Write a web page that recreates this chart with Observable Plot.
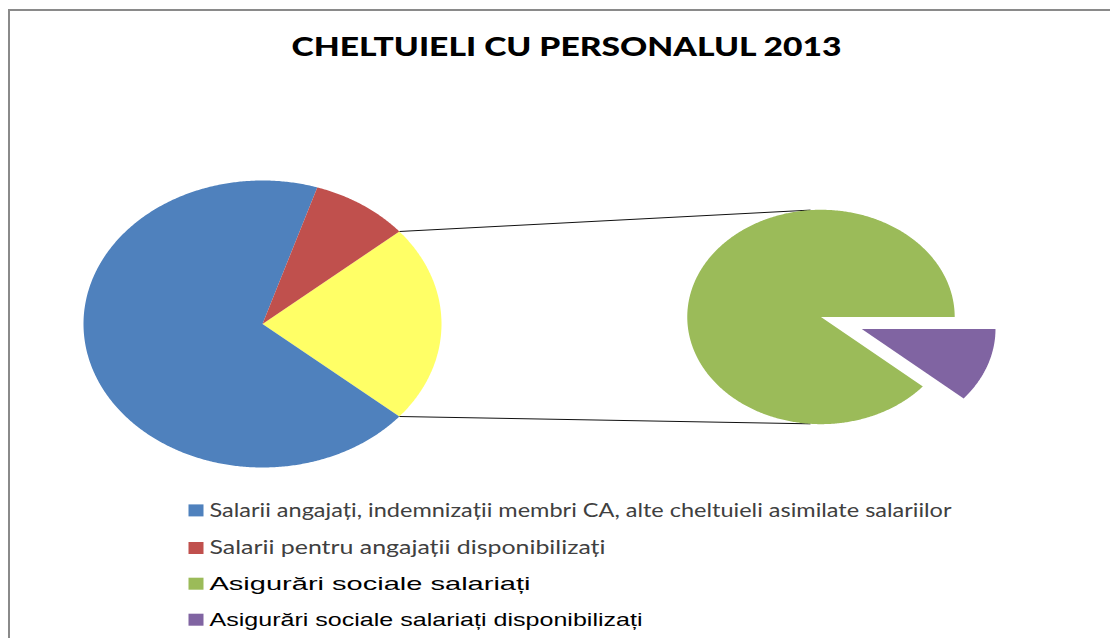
<!DOCTYPE html>
<html><head><meta charset="utf-8">
<script src="https://cdn.jsdelivr.net/npm/d3@7"></script>
<script src="https://cdn.jsdelivr.net/npm/@observablehq/plot@0.6"></script>
<style>
html,body{margin:0;padding:0;background:#fff;}
body{width:1110px;height:638px;overflow:hidden;position:relative;}
#frame{position:absolute;left:8px;top:9px;width:1110px;height:650px;border-top:2px solid #8a8a8a;border-left:2px solid #8a8a8a;}
#title{position:absolute;left:0;top:0;}
#chart{position:absolute;left:0;top:80px;}
#legend{position:absolute;left:0;top:480px;}
svg{display:block;}
</style></head>
<body>
<div id="frame"></div>
<div id="title"></div>
<div id="chart"></div>
<div id="legend"></div>
<script>
// ---- data ----
const title = "CHELTUIELI CU PERSONALUL 2013";
const categories = [
  "Salarii angajați, indemnizații membri CA, alte cheltuieli asimilate salariilor",
  "Salarii pentru angajații disponibilizați",
  "Asigurări sociale salariați",
  "Asigurări sociale salariați disponibilizați"
];
const values = [68.8, 8.9, 19.8, 2.5];
const colors = ["#4F81BD", "#C0504D", "#9BBB59", "#8064A2"];
const otherLabel = "Altele";
const otherColor = "#FFFF66";
const mainIdx = [0, 1];      // shown in the first pie
const secondIdx = [3, 2];    // split into the second pie (clockwise order)

// ---- geometry (layout) ----
const mainPie = {cx: 0, cy: 0, r: 1};
const secPie = {cx: 3.12, cy: 0.049, r: 0.747, explode: 0.325};

const pts = [];
const rad = a => a * Math.PI / 180;
function slice(key, cat, cx, cy, r, a0, a1) {
  pts.push({key, cat, x: cx, y: cy});
  const n = Math.max(2, Math.ceil((a1 - a0) / 0.5));
  for (let i = 0; i <= n; i++) {
    const a = rad(a0 + (a1 - a0) * i / n);
    pts.push({key, cat, x: cx + r * Math.sin(a), y: cy + r * Math.cos(a)});
  }
  pts.push({key, cat, x: cx, y: cy});
}

const total = d3.sum(values);
const otherValue = d3.sum(secondIdx, i => values[i]);
const otherAngle = otherValue / total * 360;
// main pie: "other" slice centred on the right
let a = 90 - otherAngle / 2;
slice("other", otherLabel, mainPie.cx, mainPie.cy, mainPie.r, a, a + otherAngle);
const otherA0 = a, otherA1 = a + otherAngle;
a += otherAngle;
for (const i of mainIdx) {
  const ang = values[i] / total * 360;
  slice("m" + i, categories[i], mainPie.cx, mainPie.cy, mainPie.r, a, a + ang);
  a += ang;
}
// second pie
let b = 90;
secondIdx.forEach((i, k) => {
  const ang = values[i] / otherValue * 360;
  let cx = secPie.cx, cy = secPie.cy;
  if (k === 0) {
    const mid = rad(b + ang / 2);
    cx += secPie.explode * secPie.r * Math.sin(mid);
    cy += secPie.explode * secPie.r * Math.cos(mid);
  }
  slice("s" + i, categories[i], cx, cy, secPie.r, b, b + ang);
  b += ang;
});

// connector lines
const connA = [355.5, 184.5];
const links = [
  {x1: mainPie.cx + Math.sin(rad(otherA0)), y1: mainPie.cy + Math.cos(rad(otherA0)),
   x2: secPie.cx + secPie.r * Math.sin(rad(connA[0])), y2: secPie.cy + secPie.r * Math.cos(rad(connA[0]))},
  {x1: mainPie.cx + Math.sin(rad(otherA1)), y1: mainPie.cy + Math.cos(rad(otherA1)),
   x2: secPie.cx + secPie.r * Math.sin(rad(connA[1])), y2: secPie.cy + secPie.r * Math.cos(rad(connA[1]))}
];

const W = 1110, H = 400;
const pxX = 179, pxY = 143.5, ox = 262, oy = 243.5;
const chart = Plot.plot({
  width: W, height: H, margin: 0,
  x: {domain: [-ox / pxX, (W - ox) / pxX], range: [0, W], axis: null},
  y: {domain: [-(H - oy) / pxY, oy / pxY], range: [H, 0], axis: null},
  color: {domain: [...categories, otherLabel], range: [...colors, otherColor]},
  marks: [
    Plot.link(links, {x1: "x1", y1: "y1", x2: "x2", y2: "y2", stroke: "#111", strokeWidth: 1}),
    Plot.line(pts, {x: "x", y: "y", z: "key", fill: "cat", stroke: "none", curve: "linear"})
  ]
});
document.getElementById("chart").appendChild(chart);

// title
const ts = d3.select("#title").append("svg").attr("width", W).attr("height", 80);
ts.append("text").attr("x", 291.5).attr("y", 56)
  .attr("textLength", 550).attr("lengthAdjust", "spacingAndGlyphs")
  .style("font-family", "Lato, 'Open Sans', sans-serif").style("font-weight", "900")
  .style("font-size", "26px").attr("fill", "#000").text(title);

// legend
const legendRows = [
  {i: 0, base: 36.7, w: 742, font: "Lato, sans-serif", size: 18.5, color: "#404040"},
  {i: 1, base: 74.3, w: 396, font: "Lato, sans-serif", size: 18.5, color: "#404040"},
  {i: 2, base: 110, w: 321, font: "'Liberation Sans', Arial, sans-serif", size: 17.7, color: "#000"},
  {i: 3, base: 146, w: 433, font: "'Liberation Sans', Arial, sans-serif", size: 17.7, color: "#000"}
];
const ls = d3.select("#legend").append("svg").attr("width", W).attr("height", 158);
for (const r of legendRows) {
  ls.append("rect").attr("x", 188.5).attr("y", r.base - 12.3).attr("width", 15).attr("height", 12)
    .attr("fill", colors[r.i]);
  ls.append("text").attr("x", 209.5).attr("y", r.base)
    .attr("textLength", r.w).attr("lengthAdjust", "spacingAndGlyphs")
    .style("font-family", r.font).style("font-size", r.size + "px").attr("fill", r.color)
    .text(categories[r.i]);
}
</script>
</body></html>
